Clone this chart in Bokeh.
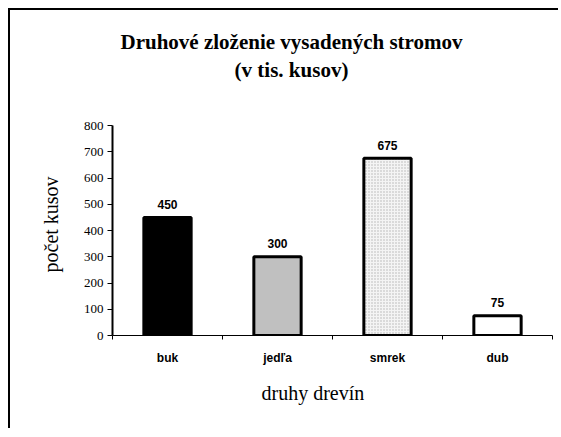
from bokeh.plotting import figure
from bokeh.models import FixedTicker, Range1d, ColumnDataSource, Title
from bokeh.core.properties import value
from bokeh.embed import file_html
from bokeh.resources import INLINE

# ---- data ----
categories = ["buk", "jedľa", "smrek", "dub"]
counts = [450, 300, 675, 75]
fill_colors = ["#000000", "#c0c0c0", "#f4f4f4", "#ffffff"]
hatches = [" ", " ", ".", " "]
y_ticks = [0, 100, 200, 300, 400, 500, 600, 700, 800]
y_max = 800

title_lines = ["Druhové zloženie vysadených stromov", "(v tis. kusov)"]
x_label = "druhy drevín"
y_label = "počet kusov"

SERIF = "Liberation Serif"
SANS = "Liberation Sans"

# ---- layout geometry (canvas px; canvas starts at page 10,10) ----
W, H = 550, 420
FRAME_L, FRAME_R, FRAME_T, FRAME_B = 102, 542, 0, 325
PX_AXIS = 210  # pixel height of the 0..800 value axis
y_top = y_max * (FRAME_B - FRAME_T) / PX_AXIS
n = len(categories)


def px_to_x(px):   # horizontal pixels from frame left -> data
    return px * n / (FRAME_R - FRAME_L)


def px_to_y(px):   # vertical pixels above frame bottom -> data
    return px * y_top / (FRAME_B - FRAME_T)


xpos = [i + 0.5 for i in range(n)]
src = ColumnDataSource(dict(
    x=xpos, top=counts, color=fill_colors, hatch=hatches,
    label=[str(v) for v in counts],
))

p = figure(width=W, height=H, output_backend="svg", toolbar_location=None,
           x_range=Range1d(0, n), y_range=Range1d(0, y_top),
           min_border_left=FRAME_L, min_border_right=W - FRAME_R,
           min_border_top=FRAME_T, min_border_bottom=H - FRAME_B)
p.styles = {"margin-left": "10px", "margin-top": "10px",
            "background-color": "#ffffff",
            "box-shadow": "-2px -2px 0px 0px #000000"}
p.outline_line_color = None
p.xgrid.grid_line_color = None
p.ygrid.grid_line_color = None
p.background_fill_color = "white"
p.border_fill_color = "white"

p.vbar(x="x", top="top", bottom=0, width=0.43, source=src,
       fill_color="color", line_color="black", line_width=3,
       hatch_pattern="hatch", hatch_color="#b4b4b4", hatch_scale=3, hatch_weight=1)

p.text(x="x", y="top", text="label", source=src, text_align="center",
       text_baseline="alphabetic", y_offset=-13,
       text_font=value(SANS), text_font_style="bold", text_font_size="12px",
       text_color="black")

# chart title, drawn in the free upper part of the plot area
p.text(x=[px_to_x(179)] * 2, y=[px_to_y(294), px_to_y(266)], text=title_lines,
       text_align="center", text_baseline="alphabetic",
       text_font=value(SERIF), text_font_style="bold", text_font_size="21px",
       text_color="black")

# y axis
yax = p.yaxis[0]
yax.ticker = FixedTicker(ticks=y_ticks)
yax.bounds = (0, y_max)
yax.major_tick_out = 5
yax.major_tick_in = 0
yax.minor_tick_line_color = None
yax.major_label_standoff = 4
yax.major_label_text_font = SERIF
yax.major_label_text_font_size = "13px"
yax.major_label_text_color = "black"
yax.axis_line_width = 2
yax.axis_line_color = "black"
yax.major_tick_line_color = "black"

# x axis
xax = p.xaxis[0]
xax.ticker = FixedTicker(ticks=xpos, minor_ticks=list(range(n + 1)))
xax.major_label_overrides = {x: c for x, c in zip(xpos, categories)}
xax.major_tick_out = 0
xax.major_tick_in = 0
xax.minor_tick_out = 4
xax.minor_tick_in = 0
xax.minor_tick_line_color = "black"
xax.axis_line_color = "black"
xax.major_label_standoff = 11
xax.major_label_text_font = SANS
xax.major_label_text_font_style = "bold"
xax.major_label_text_font_size = "12px"
xax.major_label_text_color = "black"

# axis titles
p.add_layout(Title(text=y_label, align="left", offset=63, vertical_align="bottom",
                   standoff=38, text_font=SERIF, text_font_style="normal",
                   text_font_size="20px", text_color="black"), "left")
p.add_layout(Title(text=x_label, align="left", offset=149, vertical_align="bottom",
                   standoff=25, text_font=SERIF, text_font_style="normal",
                   text_font_size="20px", text_color="black"), "below")

open("out.html", "w").write(file_html(p, INLINE))
